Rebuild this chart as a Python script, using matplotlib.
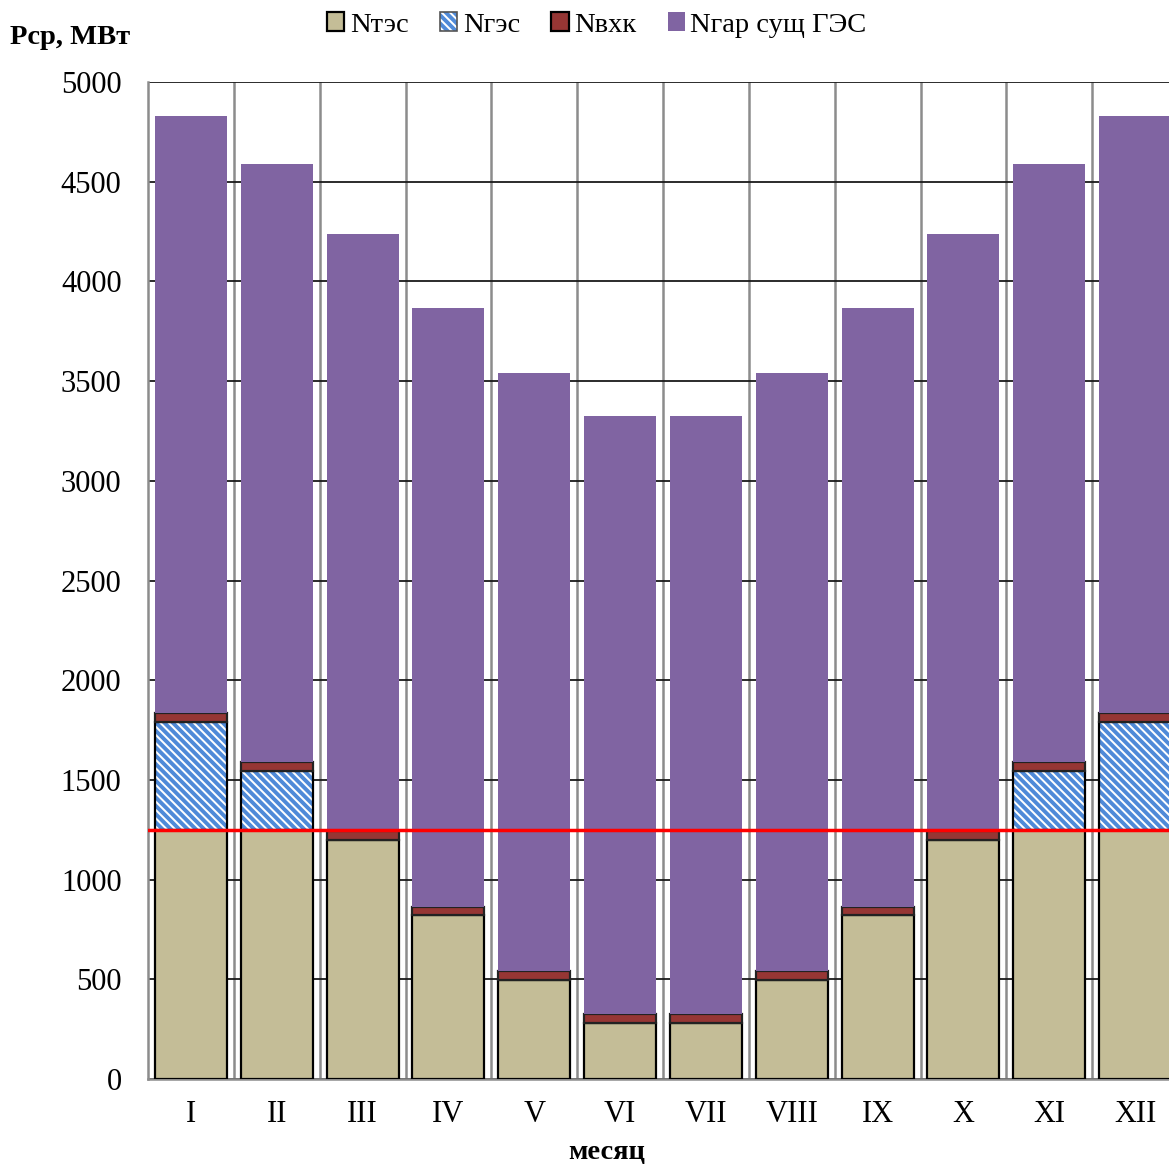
import matplotlib

matplotlib.use("Agg")
import matplotlib.pyplot as plt
import numpy as np
from matplotlib.legend_handler import HandlerTuple
from matplotlib.patches import Patch

# monthly balance of average power, MW
months = ["I", "II", "III", "IV", "V", "VI", "VII", "VIII", "IX", "X", "XI", "XII"]
n_tes = [1250, 1250, 1200, 820, 495, 280, 280, 495, 820, 1200, 1250, 1250]
n_ges = [540, 295, 0, 0, 0, 0, 0, 0, 0, 0, 295, 540]
n_vhk = [45, 45, 45, 45, 45, 45, 45, 45, 45, 45, 45, 45]
total = [4830, 4590, 4240, 3865, 3540, 3325, 3325, 3540, 3865, 4240, 4590, 4830]
tes_limit = 1250

C_TES = "#C4BD97"
C_GES = "#4F8AD8"
C_VHK = "#963634"
C_GAR = "#8064A2"
HATCH = "\\\\\\\\"

plt.rcParams["font.family"] = ["Liberation Serif", "DejaVu Serif"]
plt.rcParams["hatch.linewidth"] = 2.8

fig = plt.figure(figsize=(11.69, 11.64), dpi=100)
ax = fig.add_axes([148 / 1169, 85 / 1164, 1030 / 1169, 997 / 1164])

x = np.arange(len(months))
tes = np.array(n_tes, float)
ges = np.array(n_ges, float)
vhk = np.array(n_vhk, float)
gar = np.array(total, float) - tes - ges - vhk
w = 0.84

ax.bar(x, tes, w, color=C_TES, edgecolor="black", lw=1.6, zorder=3)
has_ges = ges > 0
ax.bar(x[has_ges], ges[has_ges], w, bottom=tes[has_ges], color="white",
       edgecolor=C_GES, hatch=HATCH, lw=0, zorder=3)
ax.bar(x[has_ges], ges[has_ges], w, bottom=tes[has_ges], fill=False,
       edgecolor="black", lw=1.6, zorder=3)
ax.bar(x, vhk, w, bottom=tes + ges, color=C_VHK, edgecolor="#222222", lw=1.6, zorder=3)
ax.bar(x, gar, w, bottom=tes + ges + vhk, color=C_GAR, edgecolor="none", zorder=3)

ax.axhline(tes_limit, color="#FF0000", lw=2.5, zorder=5)

ax.set_xlim(-0.5, len(months) - 0.5)
ax.set_ylim(0, 5000)
ax.set_yticks(np.arange(0, 5001, 500))
ax.set_xticks(x)
ax.set_xticklabels(months)
ax.tick_params(axis="both", length=0, labelsize=22)
ax.tick_params(axis="x", pad=15)
ax.tick_params(axis="y", pad=19)

# horizontal value grid and vertical month separators behind the bars
ax.yaxis.grid(True, color="#1a1a1a", lw=1.3, zorder=0)
for b in np.arange(0.5, len(months) - 0.5, 1):
    ax.axvline(b, color="#8c8c8c", lw=1.8, zorder=0)
ax.set_axisbelow(True)
for side in ("top", "right"):
    ax.spines[side].set_visible(False)
for side in ("left", "bottom"):
    ax.spines[side].set_color("#8c8c8c")
    ax.spines[side].set_linewidth(1.8)

fig.text(10 / 1169, 1 - 37 / 1164, "Pср, МВт", fontsize=20.5, fontweight="bold",
         va="center", ha="left")
fig.text(607 / 1169, 1 - 1153 / 1164, "месяц", fontsize=20.5, fontweight="bold",
         va="center", ha="center")

h_tes = Patch(facecolor=C_TES, edgecolor="black", lw=1.6)
h_ges = (Patch(facecolor="white", edgecolor=C_GES, hatch=HATCH, lw=0),
         Patch(fill=False, edgecolor="#555555", lw=1.2))
h_vhk = Patch(facecolor=C_VHK, edgecolor="black", lw=1.6)
h_gar = Patch(facecolor=C_GAR, edgecolor="none")
fig.legend([h_tes, h_ges, h_vhk, h_gar], ["Nтэс", "Nгэс", "Nвхк", "Nгар сущ ГЭС"],
           handler_map={tuple: HandlerTuple(ndivide=1, pad=0)},
           loc="center", bbox_to_anchor=(597 / 1169, 1 - 25 / 1164), ncol=4,
           frameon=False, fontsize=20.5, handlelength=0.6, handleheight=0.6,
           handletextpad=0.2, columnspacing=1.1, borderpad=0)

fig.savefig("out.png", dpi=100)
